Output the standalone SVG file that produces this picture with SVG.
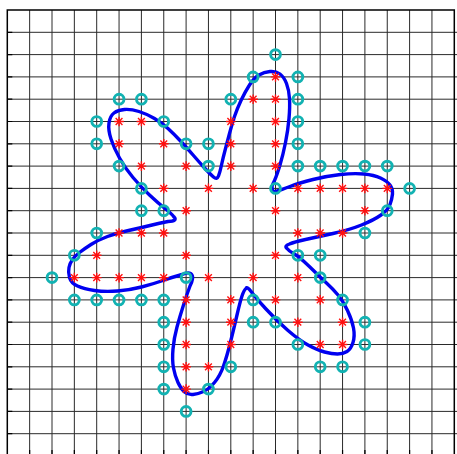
<svg xmlns="http://www.w3.org/2000/svg" xmlns:xlink="http://www.w3.org/1999/xlink" width="457" height="454" viewBox="0 0 457 454">
<style>
.grid{stroke:#2a2a2a;stroke-width:1;fill:none}
.axis{stroke:#000;stroke-width:1.5;fill:none}
.tick{stroke:#000;stroke-width:1.2}
.curve{stroke:#0000f0;stroke-width:3.4;fill:none;stroke-linejoin:round}
.ring{fill:none;stroke:#12b2b2;stroke-width:2.9}
.star{stroke:#ff1010;stroke-width:1.4;fill:none}
</style>
<defs>
<circle id="ring" class="ring" r="4.9"/>
<path id="star" class="star" d="M-4.8,0H4.8M0,-4.8V4.8M-3.4,-3.4L3.4,3.4M-3.4,3.4L3.4,-3.4"/>
</defs>
<rect width="457" height="454" fill="#fff"/>
<g id="grid">
<path class="grid" d="M29.65,10V454M52,10V454M74.35,10V454M96.7,10V454M119.05,10V454M141.4,10V454M163.75,10V454M186.1,10V454M208.45,10V454M230.8,10V454M253.15,10V454M275.5,10V454M297.85,10V454M320.2,10V454M342.55,10V454M364.9,10V454M387.25,10V454M409.6,10V454M431.95,10V454"/>
<path class="grid" d="M7.3,32.3H457M7.3,54.6H457M7.3,76.9H457M7.3,99.2H457M7.3,121.5H457M7.3,143.8H457M7.3,166.1H457M7.3,188.4H457M7.3,210.7H457M7.3,233H457M7.3,255.3H457M7.3,277.6H457M7.3,299.9H457M7.3,322.2H457M7.3,344.5H457M7.3,366.8H457M7.3,389.1H457M7.3,411.4H457M7.3,433.7H457"/>
<path class="axis" d="M7.3,454V10H454.3V454"/>
<path class="tick" d="M7.3,32.3h5M7.3,54.6h5M7.3,76.9h5M7.3,99.2h5M7.3,121.5h5M7.3,143.8h5M7.3,166.1h5M7.3,188.4h5M7.3,210.7h5M7.3,233h5M7.3,255.3h5M7.3,277.6h5M7.3,299.9h5M7.3,322.2h5M7.3,344.5h5M7.3,366.8h5M7.3,389.1h5M7.3,411.4h5M7.3,433.7h5"/>
<path class="tick" d="M29.65,450V454M52,450V454M74.35,450V454M96.7,450V454M119.05,450V454M141.4,450V454M163.75,450V454M186.1,450V454M208.45,450V454M230.8,450V454M253.15,450V454M275.5,450V454M297.85,450V454M320.2,450V454M342.55,450V454M364.9,450V454M387.25,450V454M409.6,450V454M431.95,450V454"/>
</g>
<g id="boundary">
<path class="curve" d="M213.5,177 Q217,180 218.5,176 Q220,172 221.5,165 Q223,158 225,150.5 Q227,143 229.5,133.5 Q232,124 234.5,116.5 Q237,109 241,100.5 Q245,92 249.5,85 Q254,78 259,75 Q264,72 270,71.5 Q276,71 280,74 Q284,77 286.5,83.5 Q289,90 289.5,98.5 Q290,107 289,118.5 Q288,130 285.5,142.5 Q283,155 280,165 Q277,175 274.5,180.5 Q271,187 272.5,189 Q273,193 277,191 Q281,190 290,186.5 Q299,183 313,179.5 Q327,176 340.5,174.5 Q354,173 364,174 Q374,175 380.5,178 Q387,181 390,185 Q393,189 392.5,194 Q392,199 390,204.5 Q388,210 381,215 Q374,220 361.5,225 Q349,230 333,233.5 Q317,237 305.5,239.5 Q294,242 289.5,244 Q284,246 287,248.5 Q289,251 293.5,253.5 Q298,256 304,261.5 Q310,267 315.5,272.5 Q321,278 327,283.5 Q333,289 338,295 Q343,301 347.5,310.5 Q352,320 353.5,328 Q355,336 353,342.5 Q351,349 347,351.5 Q343,354 337.5,354 Q332,354 324.5,352 Q317,350 308,345 Q299,340 288,330.5 Q277,321 266,309 Q255,297 251.5,292 Q247,286 246,288.5 Q244,290 242,296 Q240,302 237,315 Q234,328 230.5,342 Q227,356 223.5,366 Q220,376 214.5,382.5 Q209,389 203.5,391.5 Q198,394 193,394.5 Q188,395 184.5,392 Q181,389 178,382.5 Q175,376 173.5,368 Q172,360 173,349 Q174,338 177,327 Q180,316 183.5,305 Q187,294 190,286 Q194,278 192,275 Q190,271 182,274.5 Q173,277 163,280.5 Q153,284 141.5,287 Q130,290 117.5,291 Q105,292 94.5,290.5 Q84,289 77.5,286 Q71,283 69.5,277.5 Q68,272 69,267.5 Q70,263 72.5,259.5 Q75,256 79.5,252.5 Q84,249 91,244.5 Q98,240 107.5,236.5 Q117,233 128.5,230.5 Q140,228 150,225.5 Q160,223 168,221.5 Q178,221 174,217 Q172,214 165,208.5 Q158,203 149.5,195 Q141,187 133,177.5 Q125,168 119.5,158 Q114,148 111,139 Q108,130 109,123 Q110,116 114,113 Q118,110 124.5,109.5 Q131,109 139,111.5 Q147,114 154.5,118.5 Q162,123 168,128.5 Q174,134 180.5,141 Q187,148 193.5,155.5 Q200,163 205,168.5 Q210,174 213.5,177 Z"/>
</g>
<g id="inside-points">
<use xlink:href="#star" x="275.5" y="76.9"/>
<use xlink:href="#star" x="253.15" y="99.2"/>
<use xlink:href="#star" x="275.5" y="99.2"/>
<use xlink:href="#star" x="119.05" y="121.5"/>
<use xlink:href="#star" x="141.4" y="121.5"/>
<use xlink:href="#star" x="230.8" y="121.5"/>
<use xlink:href="#star" x="275.5" y="121.5"/>
<use xlink:href="#star" x="119.05" y="143.8"/>
<use xlink:href="#star" x="163.75" y="143.8"/>
<use xlink:href="#star" x="230.8" y="143.8"/>
<use xlink:href="#star" x="275.5" y="143.8"/>
<use xlink:href="#star" x="141.4" y="166.1"/>
<use xlink:href="#star" x="186.1" y="166.1"/>
<use xlink:href="#star" x="230.8" y="166.1"/>
<use xlink:href="#star" x="275.5" y="166.1"/>
<use xlink:href="#star" x="163.75" y="188.4"/>
<use xlink:href="#star" x="208.45" y="188.4"/>
<use xlink:href="#star" x="253.15" y="188.4"/>
<use xlink:href="#star" x="297.85" y="188.4"/>
<use xlink:href="#star" x="320.2" y="188.4"/>
<use xlink:href="#star" x="342.55" y="188.4"/>
<use xlink:href="#star" x="364.9" y="188.4"/>
<use xlink:href="#star" x="387.25" y="188.4"/>
<use xlink:href="#star" x="186.1" y="210.7"/>
<use xlink:href="#star" x="275.5" y="210.7"/>
<use xlink:href="#star" x="364.9" y="210.7"/>
<use xlink:href="#star" x="119.05" y="233"/>
<use xlink:href="#star" x="141.4" y="233"/>
<use xlink:href="#star" x="163.75" y="233"/>
<use xlink:href="#star" x="297.85" y="233"/>
<use xlink:href="#star" x="320.2" y="233"/>
<use xlink:href="#star" x="342.55" y="233"/>
<use xlink:href="#star" x="96.7" y="255.3"/>
<use xlink:href="#star" x="186.1" y="255.3"/>
<use xlink:href="#star" x="275.5" y="255.3"/>
<use xlink:href="#star" x="74.35" y="277.6"/>
<use xlink:href="#star" x="96.7" y="277.6"/>
<use xlink:href="#star" x="119.05" y="277.6"/>
<use xlink:href="#star" x="141.4" y="277.6"/>
<use xlink:href="#star" x="163.75" y="277.6"/>
<use xlink:href="#star" x="208.45" y="277.6"/>
<use xlink:href="#star" x="253.15" y="277.6"/>
<use xlink:href="#star" x="297.85" y="277.6"/>
<use xlink:href="#star" x="186.1" y="299.9"/>
<use xlink:href="#star" x="230.8" y="299.9"/>
<use xlink:href="#star" x="275.5" y="299.9"/>
<use xlink:href="#star" x="320.2" y="299.9"/>
<use xlink:href="#star" x="186.1" y="322.2"/>
<use xlink:href="#star" x="230.8" y="322.2"/>
<use xlink:href="#star" x="297.85" y="322.2"/>
<use xlink:href="#star" x="342.55" y="322.2"/>
<use xlink:href="#star" x="186.1" y="344.5"/>
<use xlink:href="#star" x="230.8" y="344.5"/>
<use xlink:href="#star" x="320.2" y="344.5"/>
<use xlink:href="#star" x="342.55" y="344.5"/>
<use xlink:href="#star" x="186.1" y="366.8"/>
<use xlink:href="#star" x="208.45" y="366.8"/>
<use xlink:href="#star" x="186.1" y="389.1"/>
</g>
<g id="boundary-points">
<use xlink:href="#ring" x="275.5" y="54.6"/>
<use xlink:href="#ring" x="253.15" y="76.9"/>
<use xlink:href="#ring" x="297.85" y="76.9"/>
<use xlink:href="#ring" x="119.05" y="99.2"/>
<use xlink:href="#ring" x="141.4" y="99.2"/>
<use xlink:href="#ring" x="230.8" y="99.2"/>
<use xlink:href="#ring" x="297.85" y="99.2"/>
<use xlink:href="#ring" x="96.7" y="121.5"/>
<use xlink:href="#ring" x="163.75" y="121.5"/>
<use xlink:href="#ring" x="297.85" y="121.5"/>
<use xlink:href="#ring" x="96.7" y="143.8"/>
<use xlink:href="#ring" x="186.1" y="143.8"/>
<use xlink:href="#ring" x="208.45" y="143.8"/>
<use xlink:href="#ring" x="297.85" y="143.8"/>
<use xlink:href="#ring" x="119.05" y="166.1"/>
<use xlink:href="#ring" x="208.45" y="166.1"/>
<use xlink:href="#ring" x="297.85" y="166.1"/>
<use xlink:href="#ring" x="320.2" y="166.1"/>
<use xlink:href="#ring" x="342.55" y="166.1"/>
<use xlink:href="#ring" x="364.9" y="166.1"/>
<use xlink:href="#ring" x="387.25" y="166.1"/>
<use xlink:href="#ring" x="141.4" y="188.4"/>
<use xlink:href="#ring" x="275.5" y="188.4"/>
<use xlink:href="#ring" x="409.6" y="188.4"/>
<use xlink:href="#ring" x="141.4" y="210.7"/>
<use xlink:href="#ring" x="163.75" y="210.7"/>
<use xlink:href="#ring" x="387.25" y="210.7"/>
<use xlink:href="#ring" x="96.7" y="233"/>
<use xlink:href="#ring" x="364.9" y="233"/>
<use xlink:href="#ring" x="74.35" y="255.3"/>
<use xlink:href="#ring" x="297.85" y="255.3"/>
<use xlink:href="#ring" x="320.2" y="255.3"/>
<use xlink:href="#ring" x="52" y="277.6"/>
<use xlink:href="#ring" x="186.1" y="277.6"/>
<use xlink:href="#ring" x="320.2" y="277.6"/>
<use xlink:href="#ring" x="74.35" y="299.9"/>
<use xlink:href="#ring" x="96.7" y="299.9"/>
<use xlink:href="#ring" x="119.05" y="299.9"/>
<use xlink:href="#ring" x="141.4" y="299.9"/>
<use xlink:href="#ring" x="163.75" y="299.9"/>
<use xlink:href="#ring" x="253.15" y="299.9"/>
<use xlink:href="#ring" x="342.55" y="299.9"/>
<use xlink:href="#ring" x="163.75" y="322.2"/>
<use xlink:href="#ring" x="253.15" y="322.2"/>
<use xlink:href="#ring" x="275.5" y="322.2"/>
<use xlink:href="#ring" x="364.9" y="322.2"/>
<use xlink:href="#ring" x="163.75" y="344.5"/>
<use xlink:href="#ring" x="297.85" y="344.5"/>
<use xlink:href="#ring" x="364.9" y="344.5"/>
<use xlink:href="#ring" x="163.75" y="366.8"/>
<use xlink:href="#ring" x="230.8" y="366.8"/>
<use xlink:href="#ring" x="320.2" y="366.8"/>
<use xlink:href="#ring" x="342.55" y="366.8"/>
<use xlink:href="#ring" x="163.75" y="389.1"/>
<use xlink:href="#ring" x="208.45" y="389.1"/>
<use xlink:href="#ring" x="186.1" y="411.4"/>
</g>
</svg>
